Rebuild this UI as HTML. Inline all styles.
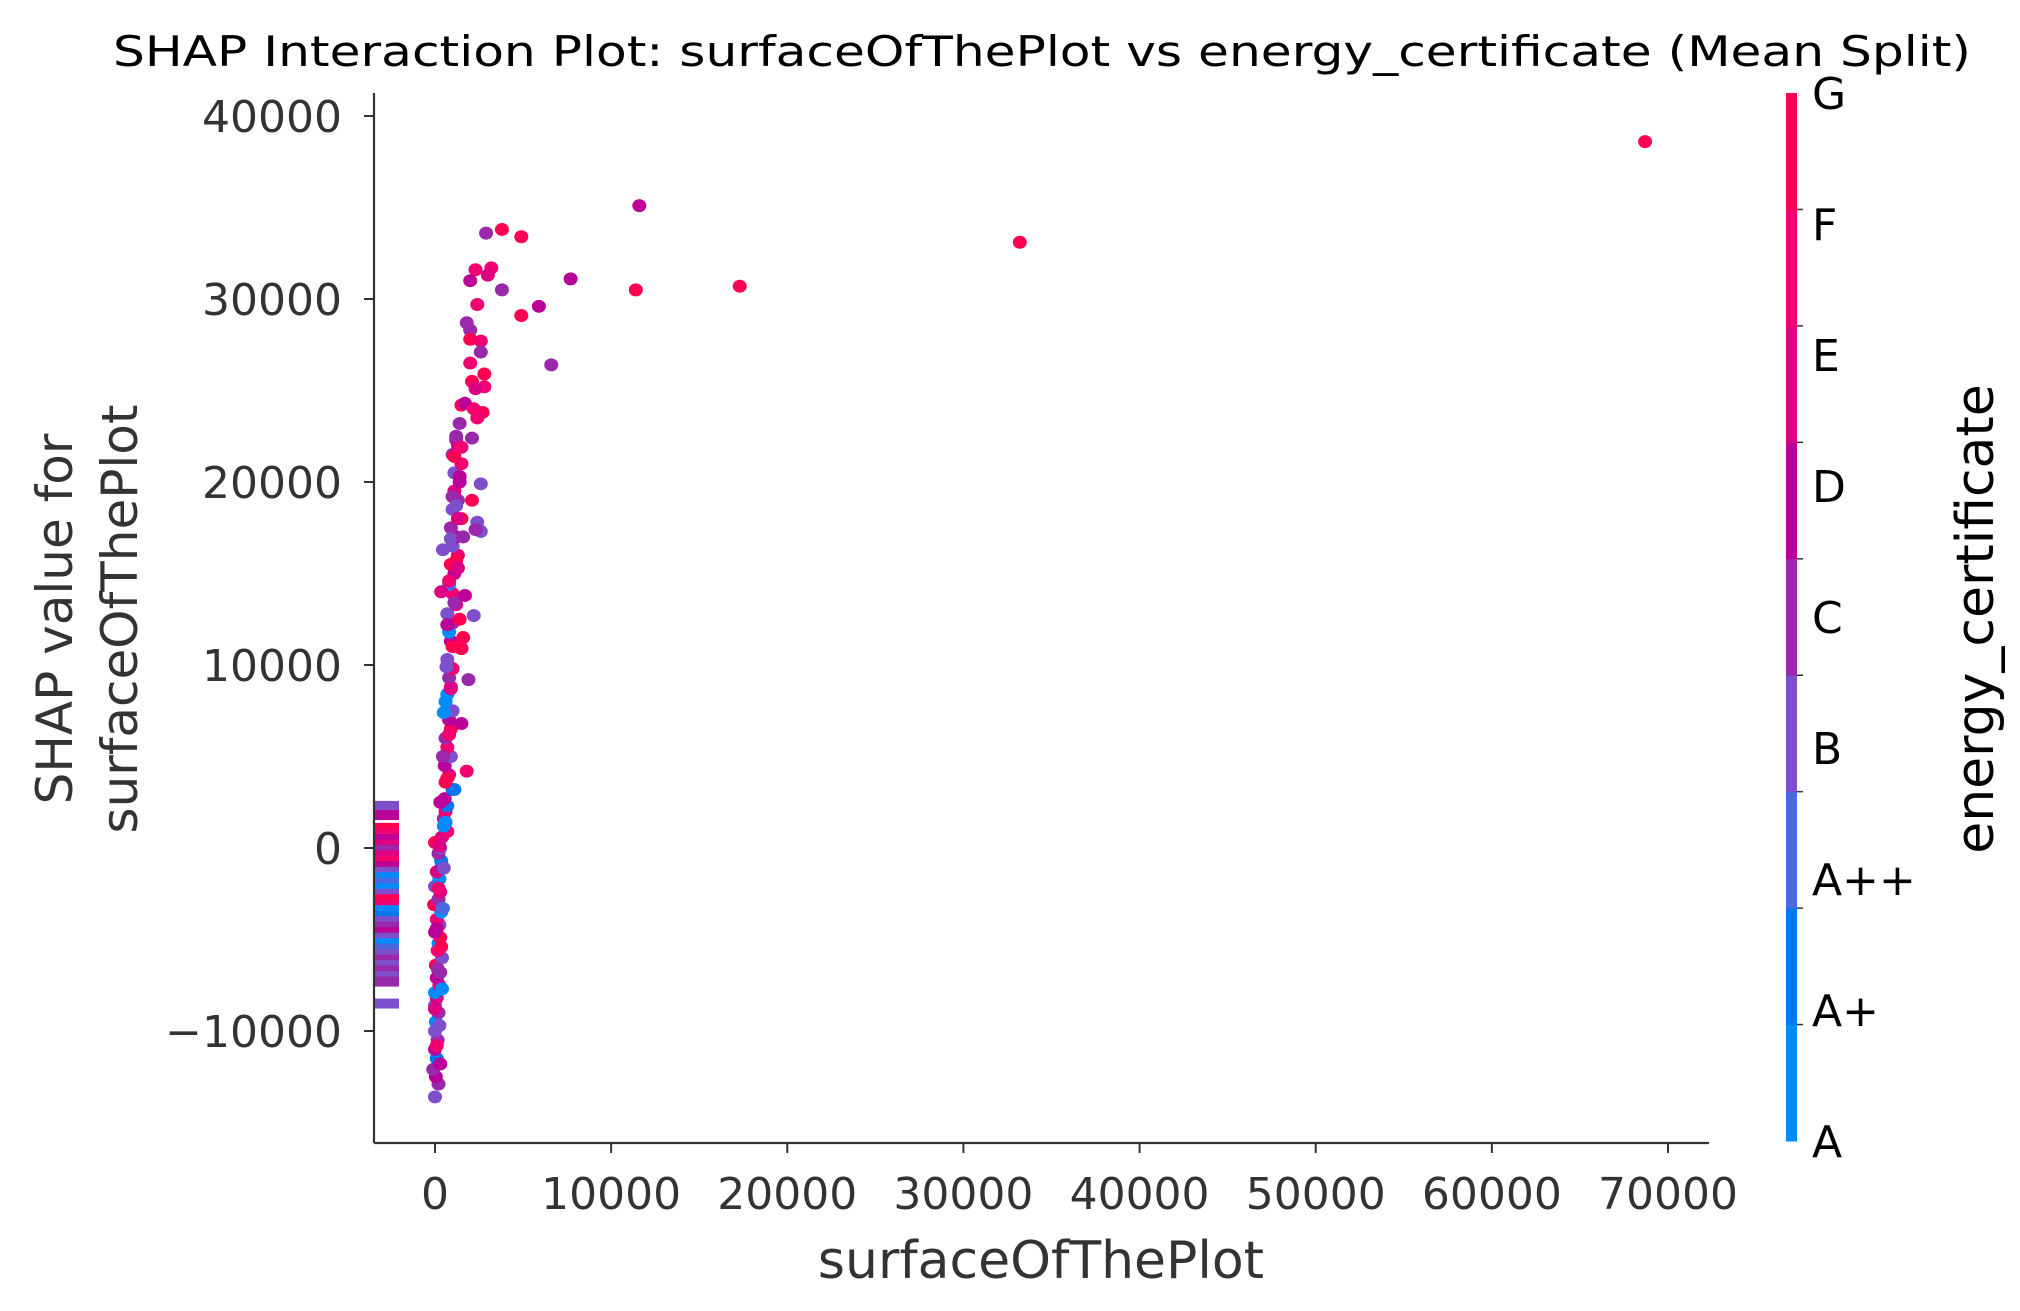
<!DOCTYPE html>
<html><head><meta charset="utf-8">
<style>
html,body{margin:0;padding:0;background:#fff;}
svg{display:block;font-family:"DejaVu Sans","Liberation Sans",sans-serif;}
</style></head>
<body>
<svg id="chart" width="2020" height="1311" viewBox="0 0 2020 1311" xmlns="http://www.w3.org/2000/svg">
<text x="1042" y="66" font-size="42" text-anchor="middle" textLength="1858" lengthAdjust="spacingAndGlyphs" fill="#000">SHAP Interaction Plot: surfaceOfThePlot vs energy_certificate (Mean Split)</text>
<g id="plot"></g>
<text x="1041" y="1278" font-size="52" text-anchor="middle" fill="#333">surfaceOfThePlot</text>
<text transform="translate(72,619) rotate(-90)" font-size="50" text-anchor="middle" fill="#333"><tspan x="0" dy="0">SHAP value for</tspan><tspan x="0" dy="65">surfaceOfThePlot</tspan></text>
<text transform="translate(1993,619) rotate(-90)" font-size="52" text-anchor="middle" fill="#000">energy_certificate</text>
</svg>
<script>
const xTicks=[0,10000,20000,30000,40000,50000,60000,70000];
const yTicks=[-10000,0,10000,20000,30000,40000];
const catLabels=["A","A+","A++","B","C","D","E","F","G"];
const catColors=["#008bfb","#0077ee","#4a68e0","#7d4fcc","#9a28aa","#bb0099","#dd0083","#f20072","#ff0052"];
const ptX=[68700,33200,17300,11600,11400,7700,6600,5900,4900,4900,3800,3800,2900,3200,3000,2300,2000,2400,1800,2000,2000,2600,2600,2800,2800,2100,2000,2300,2700,2400,2100,1500,1700,1400,2200,1200,2600,2100,2400,2600,2300,2200,1500,1100,
0,200,50,-100,100,0,150,0,50,200,0,100,0,250,100,300,50,400,150,200,300,0,250,100,350,-50,200,300,0,250,100,400,350,200,300,0,400,700,500,500,600,700,550,1000,600,800,550,900,700,600,900,800,1000,600,700,900,800,1000,700,1500,900,800,1000,700,1200,1000,800,1100,900,1300,1000,1200,900,1500,1000,1300,1100,1400,1100,1500,1000,1300,1200,
300,100,250,0,400,150,350,100,450,200,500,250,600,300,700,450,800,500,900,650,1000,700,1100,800,1200,900,1300,1000,1400,1100,1500,1200,1600,1300,1700,1400,1800,1500,1900,1600,350,450,550,650,750,850];
const ptY=[38600,33100,30700,35100,30500,31100,26400,29600,33400,29100,33800,30500,33600,31700,31300,31600,31000,29700,28700,28300,27800,27700,27100,25900,25200,25500,26500,25100,23800,23500,22400,24200,24300,23200,24000,22300,19900,19000,17800,17300,17400,12700,10900,3200,
-13600,-12900,-12500,-12100,-11500,-11000,-10500,-10000,-9500,-9000,-8600,-8200,-7900,-7500,-7100,-6800,-6400,-6000,-5600,-5200,-4900,-4600,-4200,-3900,-3500,-3100,-2800,-2400,-2100,-1700,-1300,-1000,-700,-300,0,300,600,900,1200,1600,2000,2300,2700,3200,3600,4000,4500,5000,5500,6000,6500,7000,7500,8000,8400,8800,9300,9800,10300,10900,11300,11800,12300,12800,13300,13900,14400,15000,15500,16000,16500,17000,17500,18000,18500,19000,19500,20000,20500,21000,21500,22000,22500,
-11800,-10800,-9700,-8800,-7700,-6600,-5400,-4400,-3300,-2200,-1100,100,1400,2500,3800,5000,6200,7400,8700,9900,11000,12200,13400,14600,15700,16900,18000,19200,20300,21400,21900,18700,17000,15300,13800,12500,4200,6800,9200,11500,14000,16300];
const ptC=[8,8,8,5,8,5,4,5,8,8,8,4,4,7,6,7,5,7,4,4,8,7,4,8,7,8,7,6,8,7,4,8,5,4,7,4,3,8,3,3,4,3,8,1,
3,4,5,4,1,5,4,3,0,4,3,6,0,7,5,4,8,3,7,0,8,5,3,7,0,8,4,6,3,0,6,5,1,4,3,8,6,7,0,4,7,1,5,1,8,6,5,3,7,4,8,5,3,0,0,6,4,7,3,8,5,0,4,3,6,7,2,5,8,7,3,5,4,8,3,4,6,5,3,7,4,6,4,
5,7,3,6,0,4,8,5,2,7,3,6,0,5,8,4,7,0,6,3,8,5,4,7,8,3,6,4,5,8,7,3,4,6,5,8,7,5,4,8,6,3,0,4,7,5];
const nanY=[2300,1800,1100,800,500,200,-100,-400,-700,-1000,-1300,-1600,-1900,-2200,-2500,-2800,-3100,-3400,-3700,-4000,-4300,-4600,-4900,-5200,-5500,-5800,-6100,-6400,-6700,-7000,-7300,-8500];
const nanC=[3,5,8,7,5,6,4,6,7,5,3,0,2,0,3,8,7,0,1,3,4,5,3,0,2,3,4,3,4,3,4,3];

const L=374,R=1709,T=93,B=1143;
const sx=v=>435+(v-0)*(1668-435)/70000;
const sy=v=>848-v*183/10000;
const NS="http://www.w3.org/2000/svg";
const g=document.getElementById('plot');
function mk(tag,attrs,parent){const e=document.createElementNS(NS,tag);for(const k in attrs)e.setAttribute(k,attrs[k]);(parent||g).appendChild(e);return e;}

nanY.forEach((v,i)=>{
  const r=mk('rect',{x:L+1,y:sy(v)-5,width:24,height:10,fill:catColors[nanC[i]]});
  
  
});
const nPts=Math.min(ptX.length,ptY.length);
for(let i=0;i<nPts;i++){
  const c=mk('ellipse',{cx:sx(ptX[i]),cy:sy(ptY[i]),rx:7,ry:6.5,fill:catColors[ptC[i]!==undefined?ptC[i]:3]});
  
  
}
const ax=mk('line',{x1:L,y1:T,x2:L,y2:B,stroke:'#333','stroke-width':2.2});


const bx=mk('line',{x1:L,y1:B,x2:R,y2:B,stroke:'#333','stroke-width':2.2});


xTicks.forEach(v=>{
  const x=sx(v);
  mk('line',{x1:x,y1:B,x2:x,y2:B+10,stroke:'#333','stroke-width':2});
  const t=mk('text',{x:x,y:B+66,'font-size':44,'text-anchor':'middle',fill:'#333'});
  t.textContent=String(v);
  
  
});
yTicks.forEach(v=>{
  const y=sy(v);
  mk('line',{x1:L-10,y1:y,x2:L,y2:y,stroke:'#333','stroke-width':2});
  const t=mk('text',{x:L-32,y:y+16,'font-size':44,'text-anchor':'end',fill:'#333'});
  t.textContent=(v<0?'\u2212':'')+Math.abs(v);
  
  
});
const cbL=1786,cbW=11,cbT=93,cbB=1141;
const n=catLabels.length,bh=(cbB-cbT)/n;
catColors.forEach((c,i)=>{
  const r=mk('rect',{x:cbL,y:cbB-(i+1)*bh,width:cbW,height:bh+0.5,fill:c});
  
  
  if(i>0) mk('line',{x1:cbL+cbW,y1:cbB-i*bh,x2:cbL+cbW+6,y2:cbB-i*bh,stroke:'#333','stroke-width':1.5});
});
catLabels.forEach((s,i)=>{
  const y=cbB-i*(cbB-cbT)/(n-1);
  const t=mk('text',{x:cbL+26,y:y+16,'font-size':44,fill:'#000'});
  t.textContent=s;
  
  
});
</script>
</body></html>
